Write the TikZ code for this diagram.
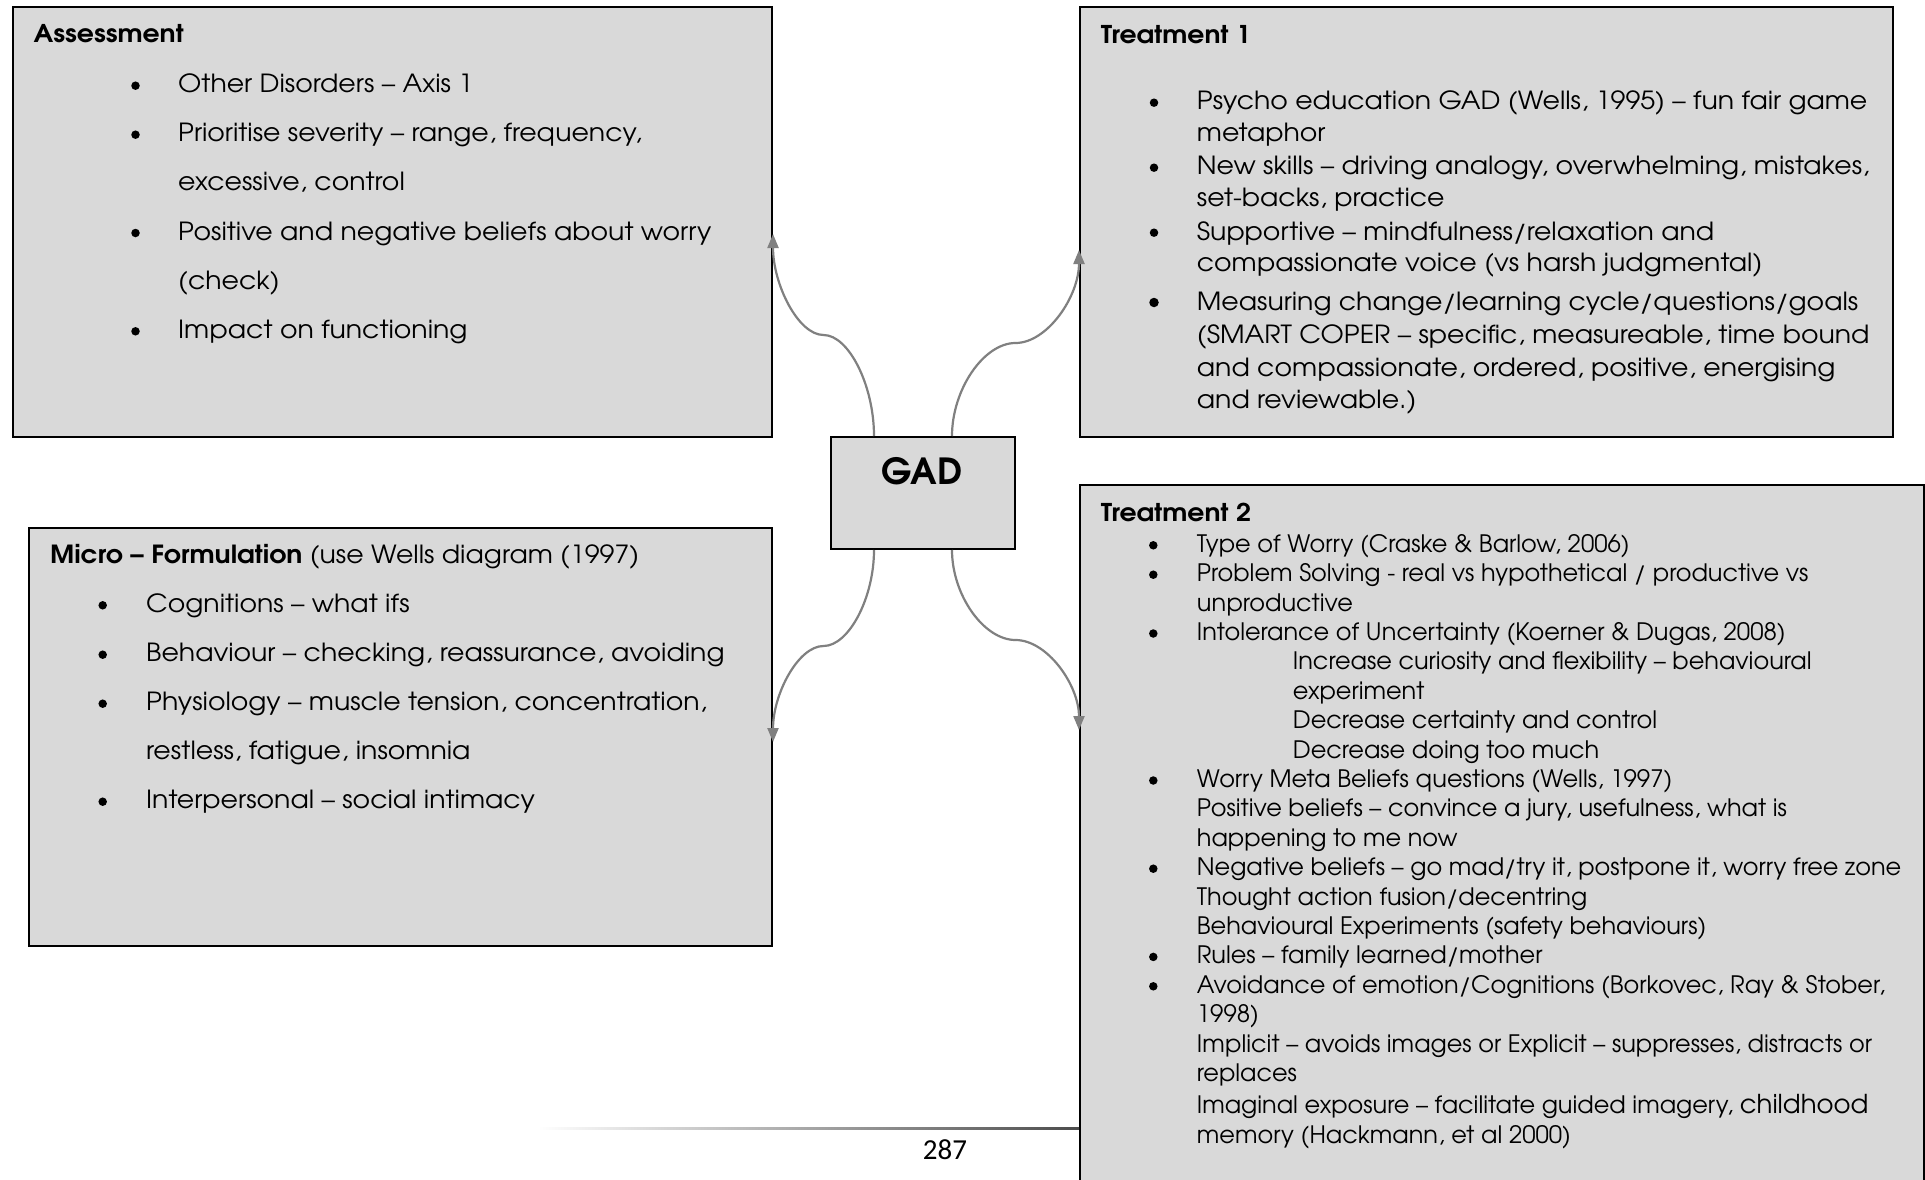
\documentclass[tikz,border=0pt]{standalone}
\usepackage{fontspec}
\setmainfont{TeX Gyre Adventor}
\newfontfamily\widefont{TeX Gyre Adventor}[FakeStretch=1.07]
\newfontfamily\titlefont{TeX Gyre Adventor}[FakeStretch=1.09]
\newfontfamily\pagefont{Carlito}
\usetikzlibrary{calc,arrows.meta}
\definecolor{boxfill}{HTML}{D9D9D9}
\definecolor{conncol}{HTML}{808080}
\newcommand\txtline[4]{\node[txt] (#1) at (#2,#3) {#4};}
\newcommand\wline[4]{\node[wtxt] (#1) at (#2,#3) {#4};}
\newcommand\bdot[3]{\node[bdot] (#1) at (#2,#3) {};}
\newcommand\curvconn[3]{%
  \coordinate (#3) at ($(#1)!0.5!(#2)$);
  \draw[conn] (#1) .. controls ($(#1)!0.5!(#1|-#3)$) and ($(#1|-#3)!0.5!(#3)$) .. (#3)
    .. controls ($(#3)!0.5!(#2|-#3)$) and ($(#2|-#3)!0.5!(#2)$) .. (#2);}
\begin{document}
\begin{tikzpicture}[x=1pt,y=-1pt,
  box/.style={draw=black,line width=2pt,fill=boxfill,rectangle,anchor=north west,inner sep=0pt},
  txt/.style={anchor=base west,inner sep=0pt,font=\fontsize{24}{29}\selectfont},
  wtxt/.style={anchor=base west,inner sep=0pt,font=\widefont\fontsize{25}{29}\selectfont},
  ttl/.style={anchor=base west,inner sep=0pt,font=\titlefont\bfseries\fontsize{24.5}{29}\selectfont},
  bdot/.style={circle,fill=black,inner sep=0pt,minimum size=8.5pt},
  conn/.style={draw=conncol,line width=2.2pt,-{Triangle[length=14pt,width=11pt]}}]
\fill[white] (0,0) rectangle (1925,1180);
\useasboundingbox (0,0) rectangle (1925,1180);
% boxes
\node[box,minimum width=759pt,minimum height=430pt] (assess) at (12,6) {};
\node[box,minimum width=813pt,minimum height=430pt] (treat1) at (1079,6) {};
\node[box,minimum width=743pt,minimum height=418pt] (micro) at (28,527) {};
\node[box,minimum width=843.5pt,minimum height=730pt] (treat2) at (1079,484) {};
\node[box,minimum width=184pt,minimum height=112pt] (gad) at (830,436) {};
\node[anchor=base,inner sep=0pt,font=\bfseries\fontsize{36}{40}\selectfont] (gadlbl) at (922,484) {GAD};
% Assessment
\node[ttl] (atitle) at (33.5,43) {Assessment};
\wline{a1}{178}{92.7}{Other Disorders – Axis 1}
\wline{a2}{178}{141.7}{Prioritise severity – range, frequency,}
\wline{a3}{178}{190.7}{excessive, control}
\wline{a4}{178}{240}{Positive and negative beliefs about worry}
\wline{a5}{178}{289.3}{(check)}
\wline{a6}{178}{338.3}{Impact on functioning}
\bdot{ab1}{135.5}{85.7}
\bdot{ab2}{135.5}{134.7}
\bdot{ab3}{135.5}{233}
\bdot{ab4}{135.5}{331.3}
% Treatment 1
\node[ttl] (t1title) at (1100.7,44) {Treatment 1};
\wline{p1}{1196.7}{110}{Psycho education GAD (Wells, 1995) – fun fair game}
\wline{p2}{1196.7}{141.7}{metaphor}
\wline{p3}{1196.7}{175}{New skills – driving analogy, overwhelming, mistakes,}
\wline{p4}{1196.7}{206.7}{set-backs, practice}
\wline{p5}{1196.7}{240}{Supportive – mindfulness/relaxation and}
\wline{p6}{1196.7}{271.7}{compassionate voice (vs harsh judgmental)}
\wline{p7}{1196.7}{310}{Measuring change/learning cycle/questions/goals}
\wline{p8}{1196.7}{343.3}{(SMART COPER – specific, measureable, time bound}
\wline{p9}{1196.7}{376}{and compassionate, ordered, positive, energising}
\wline{p10}{1196.7}{408.3}{and reviewable.)}
\bdot{pb1}{1154}{102.7}
\bdot{pb2}{1154}{167.7}
\bdot{pb3}{1154}{232.7}
\node[bdot,minimum size=9.5pt] (pb4) at (1154,302.5) {};
% Micro formulation
\node[wtxt] (mtitle) at (50,563.3) {\textbf{Micro – Formulation} (use Wells diagram (1997)};
\wline{m1}{146}{612.3}{Cognitions – what ifs}
\wline{m2}{146}{661.7}{Behaviour – checking, reassurance, avoiding}
\wline{m3}{146}{710.7}{Physiology – muscle tension, concentration,}
\wline{m4}{146}{759.3}{restless, fatigue, insomnia}
\wline{m5}{146}{808.7}{Interpersonal – social intimacy}
\bdot{mb1}{102.7}{605.3}
\bdot{mb2}{102.7}{654.7}
\bdot{mb3}{102.7}{703.7}
\bdot{mb4}{102.7}{801.7}
% Treatment 2
\node[ttl] (t2title) at (1100.7,521.7) {Treatment 2};
\txtline{q1}{1196.7}{552.3}{Type of Worry (Craske \& Barlow, 2006)}
\txtline{q2}{1196.7}{581.7}{Problem Solving - real vs hypothetical / productive vs}
\txtline{q3}{1196.7}{611.1}{unproductive}
\txtline{q4}{1196.7}{640.5}{Intolerance of Uncertainty (Koerner \& Dugas, 2008)}
\txtline{q5}{1292.7}{669.9}{Increase curiosity and flexibility – behavioural}
\txtline{q6}{1292.7}{699.3}{experiment}
\txtline{q7}{1292.7}{728.7}{Decrease certainty and control}
\txtline{q8}{1292.7}{758.1}{Decrease doing too much}
\txtline{q9}{1196.7}{787.5}{Worry Meta Beliefs questions (Wells, 1997)}
\txtline{q10}{1196.7}{816.9}{Positive beliefs – convince a jury, usefulness, what is}
\txtline{q11}{1196.7}{846.3}{happening to me now}
\txtline{q12}{1196.7}{875.7}{Negative beliefs – go mad/try it, postpone it, worry free zone}
\txtline{q13}{1196.7}{905.1}{Thought action fusion/decentring}
\txtline{q14}{1196.7}{934.5}{Behavioural Experiments (safety behaviours)}
\txtline{q15}{1196.7}{963.9}{Rules – family learned/mother}
\txtline{q16}{1196.7}{993.3}{Avoidance of emotion/Cognitions (Borkovec, Ray \& Stober,}
\txtline{q17}{1196.7}{1022.7}{1998)}
\txtline{q18}{1196.7}{1052.1}{Implicit – avoids images or Explicit – suppresses, distracts or}
\txtline{q19}{1196.7}{1081.5}{replaces}
\txtline{q20}{1196.7}{1113.3}{Imaginal exposure – facilitate guided imagery, {\fontsize{26}{29}\selectfont childhood}}
\txtline{q21}{1196.7}{1143.3}{memory (Hackmann, et al 2000)}
\bdot{qb1}{1153.3}{545.3}
\bdot{qb2}{1153.3}{574.7}
\bdot{qb3}{1153.3}{633.5}
\bdot{qb4}{1153.3}{780.5}
\bdot{qb5}{1153.3}{868.7}
\bdot{qb6}{1153.3}{956.9}
\bdot{qb7}{1153.3}{986.3}
% connectors
\coordinate (gtl) at ($(gad.north west)+(44,0)$);
\coordinate (gtr) at ($(gad.north west)+(122,0)$);
\coordinate (gbl) at ($(gad.south west)+(44,0)$);
\coordinate (gbr) at ($(gad.south west)+(122,0)$);
\coordinate (etl) at ($(assess.north east)+(0,228)$);
\coordinate (etr) at ($(treat1.north west)+(0,244)$);
\coordinate (ebl) at ($(micro.north east)+(0,215)$);
\coordinate (ebr) at ($(treat2.north west)+(0,246)$);
\curvconn{gtl}{etl}{mtl}
\curvconn{gtr}{etr}{mtr}
\curvconn{gbl}{ebl}{mbl}
\curvconn{gbr}{ebr}{mbr}
% footer
\shade[left color=white,right color=black!70] (538,1127) rectangle (1079,1129.5);
\node[anchor=base,inner sep=0pt,font=\pagefont\fontsize{29}{30}\selectfont] (pnum) at (945,1159) {287};
\end{tikzpicture}
\end{document}
